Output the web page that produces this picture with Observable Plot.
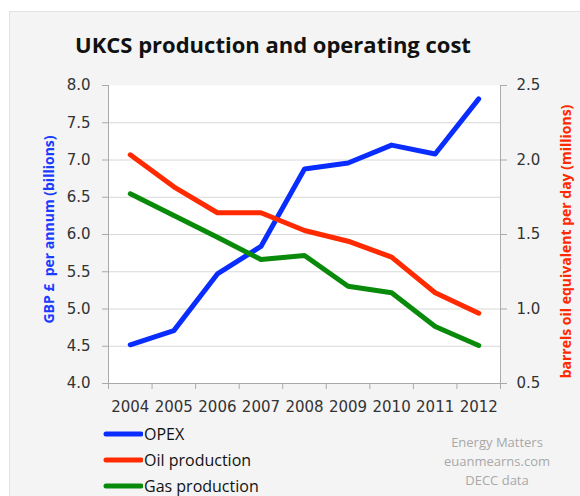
<!DOCTYPE html>
<html><head><meta charset="utf-8">
<script src="https://cdn.jsdelivr.net/npm/d3@7"></script>
<script src="https://cdn.jsdelivr.net/npm/@observablehq/plot@0.6"></script>
<style>
body{margin:0;background:#fff;}
#wrap{position:relative;width:580px;height:496px;overflow:hidden;background:#fff;}
#panel{position:absolute;left:9px;top:11px;width:580px;height:500px;background:#f4f4f4;border:1px solid #e2e2e2;}
#title{position:absolute;left:0;width:546px;top:29px;text-align:center;font:bold 22px "Open Sans",sans-serif;color:#111;}
#chart{position:absolute;left:0;top:0;}
.yl{position:absolute;font:bold 14px "Open Sans",sans-serif;white-space:nowrap;transform-origin:center;}
#legend{position:absolute;left:103px;top:421px;font:16px "Open Sans",sans-serif;color:#111;}
#legend div{height:26px;display:flex;align-items:center;}
#legend svg{margin-right:1px;}
#credit{position:absolute;left:437px;top:433px;width:120px;text-align:center;font:13px "Open Sans",sans-serif;color:#a8a8a8;line-height:19px;}
</style></head>
<body>
<div id="wrap">
<div id="panel"></div>
<div id="title">UKCS production and operating cost</div>
<div id="chart"></div>
<div class="yl" id="ylL" style="color:#1a3cff;">GBP £&nbsp; per annum (billions)</div>
<div class="yl" id="ylR" style="color:#ff2a00;">barrels oil equivalent per day (millions)</div>
<div id="legend"></div>
<div id="credit">Energy Matters<br>euanmearns.com<br>DECC data</div>
</div>
<script>
const years = [2004, 2005, 2006, 2007, 2008, 2009, 2010, 2011, 2012];
const opex = [4.52, 4.71, 5.47, 5.84, 6.88, 6.96, 7.20, 7.08, 7.82];      // GBP billions (left axis)
const oil = [2.035, 1.82, 1.646, 1.646, 1.527, 1.455, 1.348, 1.109, 0.972]; // million boe/d (right axis)
const gas = [1.773, 1.628, 1.482, 1.332, 1.359, 1.153, 1.109, 0.883, 0.755]; // million boe/d (right axis)
const leftTicks = [4.0, 4.5, 5.0, 5.5, 6.0, 6.5, 7.0, 7.5, 8.0];
const rightTicks = [0.5, 1.0, 1.5, 2.0, 2.5];
const seriesNames = ["OPEX", "Oil production", "Gas production"];
const seriesColors = ["#0a2dff", "#ff2a00", "#0a8a0a"];

// map right-axis values into left-axis domain
const toLeft = v => 4 + (v - 0.5) * 2;
const fromLeft = d => (d - 4) / 2 + 0.5;

const rows = [];
years.forEach((yr, i) => {
  rows.push({year: yr, series: seriesNames[0], y: opex[i]});
  rows.push({year: yr, series: seriesNames[1], y: toLeft(oil[i])});
  rows.push({year: yr, series: seriesNames[2], y: toLeft(gas[i])});
});
const bounds = years.map(y => y - 0.5).concat([years[years.length - 1] + 0.5]);

const chart = Plot.plot({
  width: 580, height: 420,
  marginLeft: 108, marginRight: 80, marginTop: 85, marginBottom: 37,
  x: {type: "linear", domain: [years[0] - 0.5, years[years.length - 1] + 0.5]},
  y: {domain: [4, 8]},
  color: {domain: seriesNames, range: seriesColors},
  style: {background: "transparent", fontFamily: "DejaVu Sans, sans-serif", fontSize: "15px", color: "#333", overflow: "visible"},
  marks: [
    Plot.frame({fill: "white", stroke: null}),
    Plot.gridY(leftTicks.slice(1, -1), {stroke: "#d8d8d8", strokeOpacity: 1}),
    Plot.ruleX([bounds[0], bounds[bounds.length - 1]], {stroke: "#aaa"}),
    Plot.ruleY([4], {stroke: "#aaa"}),
    Plot.axisY(leftTicks, {anchor: "left", tickSize: 6, tickPadding: 12, stroke: "#aaa", tickFormat: d => d.toFixed(1), label: null}),
    Plot.axisY(rightTicks.map(toLeft), {anchor: "right", tickSize: 6, tickPadding: 10, stroke: "#aaa", tickFormat: d => fromLeft(d).toFixed(1), label: null}),
    Plot.axisX(bounds, {tickSize: 6, stroke: "#aaa", tickFormat: () => "", label: null}),
    Plot.axisX(years, {tickSize: 0, tickPadding: 18, tickFormat: d => String(d), label: null}),
    Plot.line(rows, {x: "year", y: "y", z: "series", stroke: "series", strokeWidth: 5, strokeLinecap: "round", strokeLinejoin: "round"})
  ]
});
document.getElementById("chart").appendChild(chart);

// axis titles (rotated)
function place(id, cx, cy) {
  const el = document.getElementById(id);
  const w = el.offsetWidth, h = el.offsetHeight;
  el.style.left = (cx - w / 2) + "px";
  el.style.top = (cy - h / 2) + "px";
  el.style.transform = "rotate(-90deg)";
}
place("ylL", 48, 229);
place("ylR", 566, 241);

// legend
const lg = document.getElementById("legend");
seriesNames.forEach((n, i) => {
  const d = document.createElement("div");
  d.innerHTML = `<svg width="40" height="8"><line x1="3" y1="4" x2="38" y2="4" stroke="${seriesColors[i]}" stroke-width="5" stroke-linecap="round"/></svg><span>${n}</span>`;
  lg.appendChild(d);
});
</script>
</body></html>
